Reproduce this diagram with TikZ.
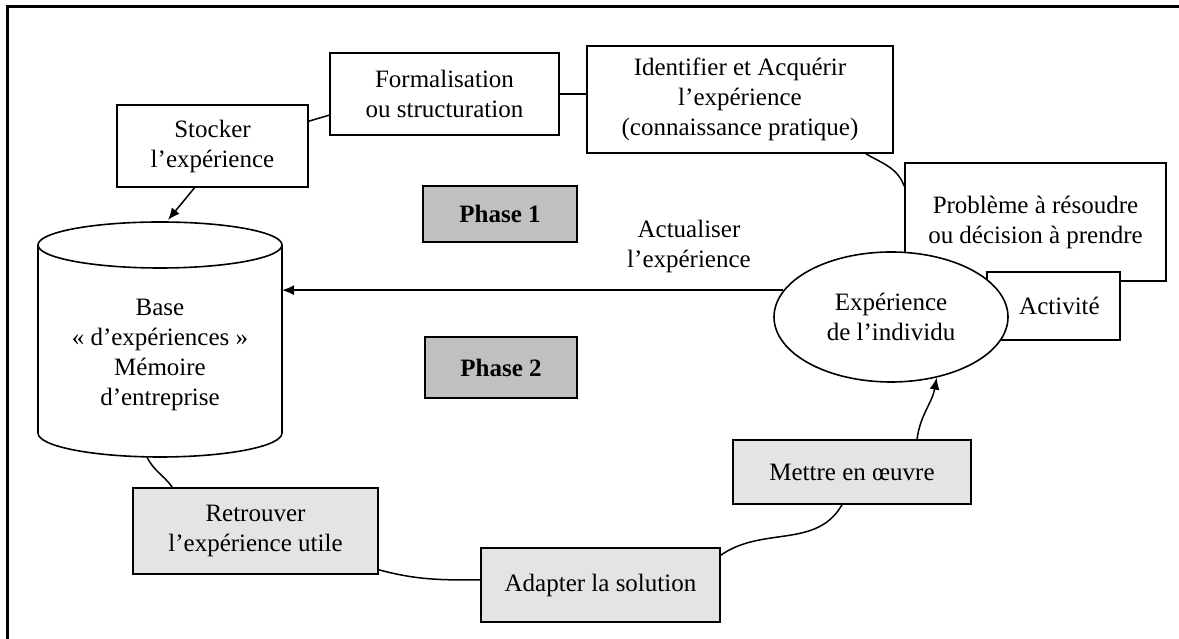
\documentclass[tikz,border=0pt]{standalone}
\usepackage{fontspec}
\setmainfont{Liberation Serif}
\usetikzlibrary{shapes.geometric,arrows.meta}
\definecolor{phasegray}{HTML}{C0C0C0}
\definecolor{lightbox}{HTML}{E4E4E4}
\begin{document}
\begin{tikzpicture}[x=1pt,y=1pt,
  every node/.style={font=\fontsize{25}{30}\selectfont},
  box/.style={draw, line width=1.6pt, fill=white, inner sep=0pt, align=center},
  phasebox/.style={box, fill=phasegray, font=\fontsize{25}{30}\selectfont\bfseries},
  graybox/.style={box, fill=lightbox},
  conn/.style={line width=1.5pt},
  arr/.style={conn, -{Latex[length=12pt,width=10pt]}}]
\useasboundingbox (0,0) rectangle (1179,639);
% frame
\draw[line width=3pt] (7,0) -- (7,632) -- (1179,632);

% cylinder (database)
\draw[line width=1.6pt, fill=white] (38,394) -- (38,206)
  arc[start angle=180, end angle=360, x radius=122pt, y radius=24pt] -- (282,394);
\draw[line width=1.6pt] (160,394) ellipse[x radius=122pt, y radius=23pt];
\node[align=center] (db) at (160,284) {Base\\« d’expériences »\\Mémoire\\d’entreprise};
\coordinate (dbtop) at (168,419);
\coordinate (dbR) at (282,349);
\coordinate (dbbot) at (147,182);

% top boxes
\node[box, minimum width=191pt, minimum height=82pt] (stock) at (212.5,493) {Stocker\\l’expérience};
\node[box, minimum width=229pt, minimum height=82pt] (form) at (444.5,545) {Formalisation\\ou structuration};
\node[box, minimum width=306pt, minimum height=107pt] (ident) at (740,539.5) {Identifier et Acquérir\\l’expérience\\(connaissance pratique)};
\node[box, minimum width=261pt, minimum height=118pt] (prob) at (1035.5,417) {Problème à résoudre\\ou décision à prendre};
\node[box, minimum width=133pt, minimum height=68pt] (act) at (1053.5,333) {\hspace*{12pt}Activité};
\node[box, ellipse, minimum width=234pt, minimum height=130pt] (ell) at (891,322) {Expérience\\de l’individu};

% phases
\node[phasebox, minimum width=154pt, minimum height=56pt] (ph1) at (500,425) {Phase 1};
\node[phasebox, minimum width=152pt, minimum height=61pt] (ph2) at (501,271.5) {Phase 2};

\node[align=center] (actu) at (689,393) {Actualiser\\l’expérience};

% bottom boxes
\node[graybox, minimum width=245pt, minimum height=86pt] (ret) at (255.5,108) {Retrouver\\l’expérience utile};
\node[graybox, minimum width=239pt, minimum height=74pt] (adapt) at (600.5,54) {Adapter la solution};
\node[graybox, minimum width=238pt, minimum height=64pt] (mettre) at (852,167) {Mettre en œuvre};

% connectors
\draw[arr] ([xshift=-18pt]stock.south) -- (dbtop);
\draw[conn] ([yshift=-17pt]stock.north east) -- ([yshift=-63pt]form.north west);
\draw[conn] (form.east) -- (form.east -| ident.west);
\draw[conn] ([xshift=-28pt]ident.south east) to[out=-30,in=110] ([yshift=-24pt]prob.north west);
\draw[arr] (ell.166) -- (ell.166 -| dbR);
\draw[conn] (dbbot) to[out=-65,in=125] ([xshift=40pt]ret.north west);
\draw[conn] ([yshift=5pt]ret.south east) to[out=-15,in=180] ([yshift=5pt]adapt.west);
\draw[conn] ([yshift=-8pt]adapt.north east) to[out=35,in=-120] ([xshift=-10pt]mettre.south);
\draw[arr] ([xshift=65pt]mettre.north) to[out=82,in=-100] (ell.-53);
\end{tikzpicture}
\end{document}
